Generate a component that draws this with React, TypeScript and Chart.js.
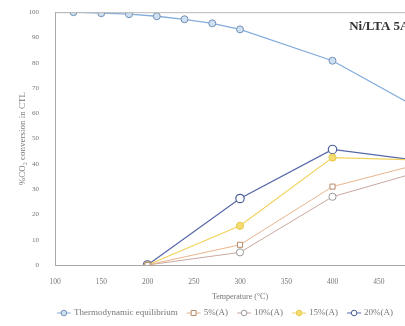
import React, { useEffect, useRef } from "react";
import { Chart, registerables } from "chart.js";

Chart.register(...registerables);

// Temperatures (°C) and CO2 conversion (%) values
const eqTemps = [100, 120, 150, 180, 210, 240, 270, 300, 400, 500];
const eqConversion = [100, 100, 99.6, 99.2, 98.4, 97.2, 95.6, 93.2, 80.8, 60.5];

const expTemps = [200, 300, 400, 500];
const conv5 = [0, 8, 31, 40.5];
const conv10 = [0, 5, 27, 37.5];
const conv15 = [0, 15.5, 42.5, 41.5];
const conv20 = [0, 26.3, 45.7, 41];

const seriesLabels = [
  "Thermodynamic equilibrium",
  "5%(A)",
  "10%(A)",
  "15%(A)",
  "20%(A)",
];

const xTicks = [100, 150, 200, 250, 300, 350, 400, 450, 500];

const FONT = "'Liberation Serif', 'DejaVu Serif', serif";
const CANVAS_W = 450;
const CANVAS_H = 326;

const pts = (xs: number[], ys: number[]) => xs.map((x, i) => ({ x, y: ys[i] }));

// Draws the plot frame, the catalyst caption and a line-style legend
const decorations = {
  id: "decorations",
  afterDatasetsDraw(chart: any) {
    const { ctx, chartArea, scales } = chart;
    ctx.save();
    ctx.strokeStyle = "#b8b8b8";
    ctx.lineWidth = 1;
    ctx.beginPath();
    ctx.moveTo(chartArea.left, chartArea.top + 0.5);
    ctx.lineTo(chartArea.right, chartArea.top + 0.5);
    ctx.lineTo(chartArea.right, chartArea.bottom);
    ctx.stroke();

    ctx.fillStyle = "#333";
    ctx.font = `bold 13px ${FONT}`;
    ctx.textAlign = "left";
    ctx.textBaseline = "middle";
    ctx.fillText("Ni/LTA 5A", scales.x.getPixelForValue(418), chartArea.top + 14);
    ctx.restore();
  },
  afterDraw(chart: any) {
    const { ctx } = chart;
    const datasets = chart.data.datasets;
    ctx.save();
    ctx.font = `9px ${FONT}`;
    ctx.textBaseline = "middle";
    const lineLen = 14;
    const gapAfterSymbol = 3;
    const itemGap = 9;
    const widths = datasets.map(
      (d: any) => lineLen + gapAfterSymbol + ctx.measureText(d.label).width
    );
    const total = widths.reduce((a: number, b: number) => a + b, 0) + itemGap * (datasets.length - 1);
    let x = CANVAS_W / 2 - total / 2;
    const y = 313;
    datasets.forEach((d: any, i: number) => {
      ctx.strokeStyle = d.borderColor;
      ctx.lineWidth = 1;
      ctx.beginPath();
      ctx.moveTo(x, y);
      ctx.lineTo(x + lineLen, y);
      ctx.stroke();
      const cx = x + lineLen / 2;
      ctx.fillStyle = d.pointBackgroundColor;
      ctx.strokeStyle = d.pointBorderColor;
      ctx.beginPath();
      if (d.pointStyle === "rect") {
        ctx.rect(cx - 2.5, y - 2.5, 5, 5);
      } else {
        ctx.arc(cx, y, 2.8, 0, Math.PI * 2);
      }
      ctx.fill();
      ctx.stroke();
      ctx.fillStyle = "#777";
      ctx.textAlign = "left";
      ctx.fillText(d.label, x + lineLen + gapAfterSymbol, y);
      x += widths[i] + itemGap;
    });
    ctx.restore();
  },
};

export default function App() {
  const canvasRef = useRef<HTMLCanvasElement | null>(null);

  useEffect(() => {
    if (!canvasRef.current) return;
    const chart = new Chart(canvasRef.current, {
      type: "line",
      data: {
        datasets: [
          {
            label: seriesLabels[0],
            data: pts(eqTemps, eqConversion),
            borderColor: "#84acdc",
            borderWidth: 1.3,
            pointStyle: "circle",
            pointRadius: eqTemps.map((t) => (t === 100 || t === 500 ? 0 : 3.5)),
            pointBackgroundColor: "#cfe0f2",
            pointBorderColor: "#7391b4",
            pointBorderWidth: 1,
          },
          {
            label: seriesLabels[1],
            data: pts(expTemps, conv5),
            borderColor: "#e9b48c",
            borderWidth: 1,
            pointStyle: "rect",
            pointRadius: 3.6,
            pointBackgroundColor: "#ffffff",
            pointBorderColor: "#b78b6b",
            pointBorderWidth: 1,
          },
          {
            label: seriesLabels[2],
            data: pts(expTemps, conv10),
            borderColor: "#c9a9a0",
            borderWidth: 1,
            pointStyle: "circle",
            pointRadius: 3.6,
            pointBackgroundColor: "#ffffff",
            pointBorderColor: "#9a9a9a",
            pointBorderWidth: 1,
          },
          {
            label: seriesLabels[3],
            data: pts(expTemps, conv15),
            borderColor: "#f1d35e",
            borderWidth: 1.2,
            pointStyle: "circle",
            pointRadius: 3.6,
            pointBackgroundColor: "#f4dc70",
            pointBorderColor: "#e6c84a",
            pointBorderWidth: 1,
          },
          {
            label: seriesLabels[4],
            data: pts(expTemps, conv20),
            borderColor: "#5567a8",
            borderWidth: 1.2,
            pointStyle: "circle",
            pointRadius: 4.2,
            pointBackgroundColor: "#ffffff",
            pointBorderColor: "#4d5e98",
            pointBorderWidth: 1.2,
          },
        ],
      },
      options: {
        animation: false,
        responsive: false,
        layout: { padding: { top: 11, right: 25, bottom: 21, left: 0 } },
        plugins: {
          legend: { display: false },
          tooltip: { enabled: false },
        },
        scales: {
          x: {
            type: "linear",
            min: 100,
            max: 500,
            afterBuildTicks: (scale: any) => {
              scale.ticks = xTicks.map((v) => ({ value: v }));
            },
            afterFit: (scale: any) => {
              scale.height = 40;
            },
            grid: { display: false },
            border: { color: "#a8a8a8", width: 1 },
            ticks: {
              padding: 5,
              color: "#777",
              font: { family: FONT, size: 7.5 },
              maxRotation: 0,
            },
            title: {
              display: true,
              text: "Temperature (°C)",
              color: "#777",
              font: { family: FONT, size: 8 },
              padding: { top: 0, bottom: 3 },
            },
          },
          y: {
            min: 0,
            max: 100,
            afterFit: (scale: any) => {
              scale.width = 55;
            },
            grid: { display: false },
            border: { color: "#a8a8a8", width: 1 },
            ticks: {
              stepSize: 10,
              padding: 8,
              color: "#777",
              font: { family: FONT, size: 7 },
            },
            title: {
              display: true,
              text: "%CO\u2082 conversion in CTL",
              color: "#777",
              font: { family: FONT, size: 9 },
              padding: { top: 17, bottom: 0 },
            },
          },
        },
      },
      plugins: [decorations],
    });
    return () => chart.destroy();
  }, []);

  return (
    <div
      style={{
        position: "fixed",
        left: 0,
        top: 0,
        width: 405,
        height: 326,
        overflow: "hidden",
        background: "#fff",
      }}
    >
      <canvas ref={canvasRef} width={CANVAS_W} height={CANVAS_H} />
    </div>
  );
}
